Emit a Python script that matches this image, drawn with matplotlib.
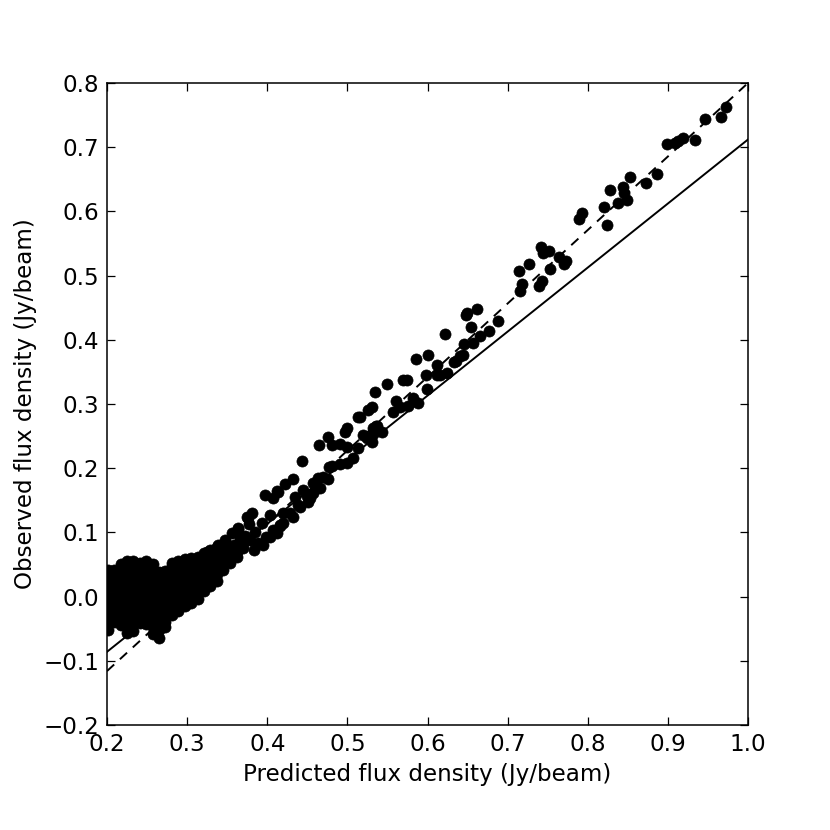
import matplotlib
matplotlib.use("Agg")
import matplotlib.pyplot as plt
import numpy as np

# ---- data: dense cluster, typed column by column (x, list of y values) ----
cluster_cols_x = [0.201, 0.209, 0.217, 0.225, 0.233, 0.241, 0.249, 0.257, 0.265,
                  0.273, 0.281, 0.289, 0.297, 0.305, 0.313, 0.321, 0.329, 0.337]
cluster_cols_y = [
    [-0.052, -0.038, -0.027, -0.016, -0.005, 0.006, 0.017, 0.029, 0.041],
    [-0.040, -0.029, -0.018, -0.007, 0.004, 0.015, 0.026, 0.034, 0.042],
    [-0.045, -0.034, -0.023, -0.012, -0.001, 0.010, 0.021, 0.032, 0.043, 0.050],
    [-0.057, -0.045, -0.034, -0.023, -0.012, -0.001, 0.010, 0.021, 0.032, 0.043, 0.055],
    [-0.054, -0.043, -0.032, -0.021, -0.010, 0.001, 0.012, 0.023, 0.034, 0.045, 0.056],
    [-0.041, -0.030, -0.019, -0.008, 0.003, 0.014, 0.025, 0.036, 0.047, 0.052],
    [-0.042, -0.031, -0.020, -0.009, 0.002, 0.013, 0.024, 0.035, 0.046, 0.055],
    [-0.058, -0.047, -0.036, -0.025, -0.014, -0.003, 0.008, 0.019, 0.030, 0.041, 0.050],
    [-0.064, -0.052, -0.041, -0.030, -0.019, -0.008, 0.003, 0.014, 0.025, 0.038],
    [-0.048, -0.039, -0.028, -0.017, -0.006, 0.005, 0.016, 0.027, 0.040],
    [-0.028, -0.017, -0.006, 0.005, 0.016, 0.027, 0.038, 0.048, 0.053],
    [-0.022, -0.011, 0.000, 0.011, 0.022, 0.033, 0.044, 0.056],
    [-0.014, -0.003, 0.008, 0.019, 0.030, 0.041, 0.052, 0.058],
    [-0.010, 0.001, 0.012, 0.023, 0.034, 0.045, 0.056, 0.060],
    [-0.004, 0.007, 0.018, 0.029, 0.040, 0.051, 0.062],
    [0.008, 0.019, 0.030, 0.041, 0.052, 0.063, 0.068],
    [0.016, 0.027, 0.038, 0.049, 0.060, 0.072],
    [0.024, 0.035, 0.046, 0.057, 0.068, 0.078],
]

# ---- data: individual points beyond the dense cluster ----
band_x = [0.3244, 0.339, 0.3473, 0.345, 0.345, 0.347, 0.3452, 0.353, 0.3535, 0.355,
          0.3556, 0.358, 0.362, 0.3619, 0.364, 0.366, 0.363, 0.370, 0.3701, 0.372,
          0.3744, 0.377, 0.3785, 0.3806, 0.383, 0.385, 0.389, 0.393, 0.395, 0.397,
          0.399, 0.403, 0.413, 0.412, 0.416, 0.420, 0.428, 0.441, 0.449, 0.4575,
          0.376, 0.3639]
band_y = [0.070, 0.080, 0.088, 0.055, 0.068, 0.078, 0.041, 0.052, 0.060, 0.066,
          0.0985, 0.080, 0.062, 0.070, 0.106, 0.090, 0.075, 0.075, 0.084, 0.095,
          0.1245, 0.113, 0.088, 0.1298, 0.0726, 0.100, 0.083, 0.114, 0.080, 0.158,
          0.093, 0.127, 0.163, 0.0985, 0.1115, 0.114, 0.130, 0.140, 0.156, 0.161,
          0.122, 0.1064]

mid_x = [0.4034, 0.4076, 0.4159, 0.4200, 0.4325, 0.4388, 0.4512, 0.4534, 0.4076, 0.4346,
         0.4118, 0.4450, 0.4658, 0.4222, 0.4325, 0.4575, 0.4637, 0.4762, 0.4700, 0.4437,
         0.4775, 0.4804, 0.4908, 0.4992, 0.5074, 0.5137, 0.4992, 0.4908, 0.4804, 0.4650,
         0.5240, 0.5303, 0.4754, 0.5200, 0.5324, 0.5357, 0.5427, 0.4970, 0.4992, 0.5137,
         0.5324, 0.5366, 0.5158, 0.5260, 0.5304, 0.5573, 0.5657, 0.5761, 0.5886, 0.5607,
         0.5823, 0.5990, 0.5345, 0.5490, 0.5698, 0.5740, 0.5980, 0.6115, 0.6115, 0.5853,
         0.6010]
mid_y = [0.0933, 0.1037, 0.1100, 0.1298, 0.1245, 0.1427, 0.1478, 0.1531, 0.1531, 0.1556,
         0.1650, 0.1660, 0.1687, 0.1754, 0.1827, 0.1765, 0.1843, 0.1832, 0.1868, 0.2117,
         0.2014, 0.2034, 0.2065, 0.2076, 0.2154, 0.2310, 0.2335, 0.2380, 0.2360, 0.2360,
         0.2466, 0.2410, 0.2490, 0.2520, 0.2540, 0.2650, 0.2570, 0.2570, 0.2620, 0.2790,
         0.2620, 0.2650, 0.2800, 0.2910, 0.2960, 0.2880, 0.2960, 0.2970, 0.3020, 0.3040,
         0.3090, 0.3230, 0.3190, 0.3310, 0.3380, 0.3380, 0.3450, 0.3450, 0.3610, 0.3700,
         0.3770]

upper_x = [0.6156, 0.6240, 0.6218, 0.6335, 0.6356, 0.6406, 0.6447, 0.6459, 0.6564, 0.6655,
           0.6771, 0.6876, 0.6543, 0.6480, 0.6489, 0.6614, 0.7155, 0.7180, 0.7395, 0.7424,
           0.7138, 0.7270, 0.7529, 0.7707, 0.7729, 0.7641, 0.7437, 0.7520, 0.7420, 0.7890,
           0.7925, 0.8244, 0.8207, 0.8374, 0.8486, 0.8456, 0.8278, 0.8444, 0.8527, 0.8723,
           0.8860, 0.8989, 0.9089, 0.9126, 0.9185, 0.9339, 0.9463, 0.9663, 0.9725]
upper_y = [0.345, 0.349, 0.409, 0.365, 0.367, 0.374, 0.377, 0.393, 0.395, 0.406,
           0.414, 0.429, 0.420, 0.4386, 0.441, 0.4475, 0.476, 0.487, 0.484, 0.492,
           0.507, 0.518, 0.511, 0.518, 0.522, 0.529, 0.535, 0.538, 0.545, 0.588,
           0.597, 0.579, 0.607, 0.6126, 0.618, 0.628, 0.633, 0.6385, 0.654, 0.644,
           0.659, 0.705, 0.707, 0.710, 0.714, 0.711, 0.744, 0.747, 0.762]

# ---- data: the two lines (slope, intercept) ----
solid_slope, solid_intercept = 0.9975, -0.2855
dashed_slope, dashed_intercept = 1.145, -0.345
line_x = [0.2, 1.0]

# ---- tick labels ----
xticks = [0.2, 0.3, 0.4, 0.5, 0.6, 0.7, 0.8, 0.9, 1.0]
yticks = [-0.2, -0.1, 0.0, 0.1, 0.2, 0.3, 0.4, 0.5, 0.6, 0.7, 0.8]

# assemble points
xs, ys = [], []
for cx, cys in zip(cluster_cols_x, cluster_cols_y):
    for cy in cys:
        xs.append(cx)
        ys.append(cy)
xs += band_x + mid_x + upper_x
ys += band_y + mid_y + upper_y

plt.rcParams['font.family'] = ['DejaVu Sans']
fig = plt.figure(figsize=(8.3, 8.3), dpi=100)
ax = fig.add_axes([107/830, 105/830, 641/830, 642/830])

ax.plot(xs, ys, 'o', color='black', markersize=8, markeredgewidth=0.5,
        markeredgecolor='black', zorder=3)

lx = np.array(line_x)
ax.plot(lx, solid_slope * lx + solid_intercept, '-', color='black', lw=1.4, zorder=2)
ax.plot(lx, dashed_slope * lx + dashed_intercept, color='black', lw=1.4,
        linestyle=(0, (5, 4)), zorder=2)

ax.set_xlim(0.2, 1.0)
ax.set_ylim(-0.2, 0.8)
ax.set_xticks(xticks)
ax.set_yticks(yticks)
ax.set_xticklabels([f"{t:.1f}" for t in xticks])
ax.set_yticklabels([f"{t:.1f}".replace('-', '\u2212') for t in yticks])
ax.tick_params(direction='in', length=5.6, width=0.9, top=True, right=True,
               labelsize=16.6, pad=5.5)
for s in ax.spines.values():
    s.set_linewidth(1.1)

ax.set_xlabel("Predicted flux density (Jy/beam)", fontsize=16.6, labelpad=5)
ax.set_ylabel("Observed flux density (Jy/beam)", fontsize=16.6, labelpad=5)

fig.savefig("out.png", dpi=100, facecolor='white')
